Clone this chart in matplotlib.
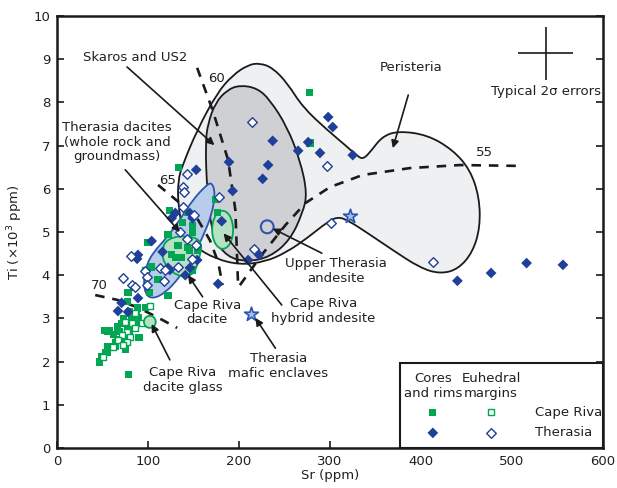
import matplotlib
matplotlib.use("Agg")
import matplotlib.pyplot as plt
from matplotlib.path import Path
from matplotlib.patches import PathPatch, Ellipse, Rectangle
import numpy as np

# ---------------- data ----------------
# Cape Riva plagioclase, cores and rims (Sr ppm, Ti x10^3 ppm)
cr_core_sr = [277, 278, 134, 174, 124, 143, 138, 149, 176, 122, 149, 99, 133, 143, 146, 154, 126, 130, 137,
              104, 149, 111, 102, 122, 78, 77, 88, 97, 84, 78, 52, 56, 91, 64, 73, 55, 49, 47, 79, 80, 87, 73,
              82, 89, 71, 77, 86, 66, 58, 69, 80, 90, 62, 67, 73, 56, 64, 75, 53]
cr_core_ti = [8.22, 7.06, 6.50, 5.76, 5.49, 5.46, 5.23, 5.16, 5.46, 4.95, 4.98, 4.75, 4.68, 4.65, 4.58, 4.58,
              4.47, 4.40, 4.40, 4.19, 4.12, 3.91, 3.59, 3.54, 3.59, 3.40, 3.24, 3.26, 2.96, 2.80, 2.71, 2.69,
              2.55, 2.45, 2.50, 2.22, 2.11, 1.99, 1.71, 3.15, 3.10, 2.99, 3.03, 3.03, 2.89, 2.85, 2.92, 2.80,
              2.73, 2.69, 2.73, 2.55, 2.62, 2.50, 2.43, 2.34, 2.34, 2.27, 2.22]
# Cape Riva euhedral margins
cr_rim_sr = [102, 97, 75, 82, 86, 77, 71, 80, 67, 77, 62, 73, 51, 93, 86]
cr_rim_ti = [3.29, 4.12, 2.92, 2.89, 2.78, 2.69, 2.62, 2.57, 2.50, 2.45, 2.34, 2.38, 2.11, 2.89, 3.12]
# Therasia cores and rims
th_core_sr = [298, 303, 276, 265, 289, 325, 237, 232, 226, 189, 193, 181, 210, 222, 440, 477, 516, 556, 177,
              153, 130, 126, 149, 104, 116, 89, 88, 154, 122, 141, 89, 71, 67, 78, 146, 124, 146]
th_core_ti = [7.66, 7.43, 7.08, 6.88, 6.83, 6.78, 7.11, 6.55, 6.23, 6.62, 5.95, 5.25, 4.35, 4.47, 3.87, 4.05,
              4.28, 4.24, 3.80, 6.44, 5.44, 5.32, 5.32, 4.79, 4.54, 4.47, 4.38, 4.35, 4.17, 4.00, 3.47, 3.36,
              3.17, 3.15, 5.44, 4.12, 4.17]
# Therasia euhedral margins
th_rim_sr = [214, 297, 301, 178, 216, 143, 413, 138, 140, 138, 151, 135, 143, 153, 81, 148, 133, 113, 119,
             97, 73, 99, 118, 82, 86, 99]
th_rim_ti = [7.55, 6.53, 5.21, 5.81, 4.61, 6.34, 4.31, 6.04, 5.93, 5.58, 5.39, 5.00, 4.84, 4.70, 4.44, 4.38,
             4.19, 4.17, 4.12, 4.10, 3.94, 3.96, 3.87, 3.77, 3.73, 3.77]
# Therasia mafic enclaves
encl_sr = [213, 322]
encl_ti = [3.10, 5.37]

# Whole-rock / groundmass fields
peristeria_sr = [133, 133, 138, 154, 176, 193, 210, 223, 237, 253, 270, 297, 319, 331, 337, 346, 357, 374, 407,
                 435, 454, 464, 465, 457, 441, 421, 399, 369, 341, 319, 308, 297, 275, 253, 229, 201, 174, 152, 138]
peristeria_ti = [5.63, 6.20, 6.55, 7.36, 8.22, 8.63, 8.87, 8.91, 8.80, 8.45, 7.89, 7.36, 6.97, 6.74, 6.69, 6.90,
                 7.20, 7.34, 7.25, 6.90, 6.44, 5.81, 5.12, 4.54, 4.14, 4.03, 4.17, 4.58, 4.98, 5.28, 5.35, 5.23,
                 4.86, 4.54, 4.31, 4.24, 4.38, 4.65, 5.05]
skaros_sr = [166, 174, 187, 201, 220, 234, 253, 267, 275, 270, 256, 234, 209, 187, 171, 165, 163]
skaros_ti = [7.52, 7.99, 8.29, 8.40, 8.33, 8.06, 7.43, 6.67, 5.90, 5.44, 4.81, 4.42, 4.31, 4.42, 4.88, 5.90, 7.06]
th_dacite_sr = [170, 174, 170, 160, 149, 135, 119, 105, 97, 95, 98, 105, 121, 135, 149, 163]
th_dacite_ti = [6.16, 5.90, 5.39, 4.88, 4.40, 3.96, 3.59, 3.45, 3.56, 3.89, 4.21, 4.51, 4.88, 5.28, 5.74, 6.06]
cr_dacite_sr = [116.5, 118.7, 127.5, 140.7, 153.8, 159.3, 157.1, 153.8, 148.4, 138.5, 127.5, 120.9, 115.4]
cr_dacite_ti = [4.63, 4.77, 4.88, 4.91, 4.86, 4.70, 4.47, 4.19, 4.00, 3.96, 4.05, 4.19, 4.42]
hybrid_center = (182, 5.05)
hybrid_size = (23, 0.88)
glass_center = (102, 2.92)
glass_size = (13, 0.28)
upper_th_center = (231, 5.12)
upper_th_size = (14, 0.30)

# Equilibrium isopleths (An content)
iso70_sr = [42, 66, 88, 110, 132]
iso70_ti = [3.54, 3.43, 3.26, 3.03, 2.78]
iso65_sr = [111, 135, 155, 168, 177, 182]
iso65_ti = [6.09, 5.67, 5.28, 4.81, 4.31, 3.77]
iso60_sr = [154, 171, 188, 196, 198, 199]
iso60_ti = [8.80, 7.82, 6.67, 5.51, 4.35, 3.77]
iso55_sr = [201, 225, 251, 273, 300, 336, 388, 443, 507]
iso55_ti = [3.77, 4.47, 5.16, 5.67, 6.04, 6.32, 6.48, 6.55, 6.53]
iso_labels = ["70", "65", "60", "55"]
iso_label_pos = [(47, 3.77), (122, 6.20), (175, 8.56), (470, 6.85)]

# Typical 2-sigma errors
err_center = (537, 9.14)
err_sr = 30
err_ti = 0.61

x_ticks = [0, 100, 200, 300, 400, 500, 600]
y_ticks = list(range(0, 11))

# ---------------- styles ----------------
GREEN = "#00a651"
BLUE = "#1f3f99"
BLUE_FILL = "#b8cdea"
BLUE_EDGE = "#2d55b0"
GREEN_FILL = "#b7e0c5"
GREY_FILL = "#cfd0d3"
LIGHT_FILL = "#eff0f2"
INK = "#231f20"
FS = 9.5

plt.rcParams["font.family"] = ["DejaVu Sans"]


def smooth_closed(xs, ys):
    """Closed quadratic-Bezier outline through the midpoints of the given vertices."""
    pts = np.column_stack([xs, ys]).astype(float)
    mids = (pts + np.roll(pts, -1, axis=0)) / 2
    verts = [mids[-1]]
    codes = [Path.MOVETO]
    for p, m in zip(pts, mids):
        verts += [p, m]
        codes += [Path.CURVE3, Path.CURVE3]
    return Path(verts, codes)


fig = plt.figure(figsize=(6.17, 4.88), dpi=100)
ax = fig.add_axes([57 / 617, 1 - 448 / 488, 546 / 617, 432 / 488])
ax.set_xlim(0, 600)
ax.set_ylim(0, 10)

# fields
ax.add_patch(PathPatch(smooth_closed(peristeria_sr, peristeria_ti), facecolor=LIGHT_FILL,
                       edgecolor="#1a1a1a", lw=1.3, zorder=1))
ax.add_patch(PathPatch(smooth_closed(skaros_sr, skaros_ti), facecolor=GREY_FILL,
                       edgecolor="#1a1a1a", lw=1.3, zorder=2))
ax.add_patch(PathPatch(smooth_closed(th_dacite_sr, th_dacite_ti), facecolor=BLUE_FILL,
                       edgecolor=BLUE_EDGE, lw=1.3, zorder=3))
ax.add_patch(PathPatch(smooth_closed(cr_dacite_sr, cr_dacite_ti), facecolor=GREEN_FILL,
                       edgecolor=GREEN, lw=1.3, zorder=4))
ax.add_patch(Ellipse(hybrid_center, *hybrid_size, facecolor=GREEN_FILL, edgecolor=GREEN, lw=1.3, zorder=4))

# isopleths
for xs, ys in [(iso70_sr, iso70_ti), (iso65_sr, iso65_ti), (iso60_sr, iso60_ti), (iso55_sr, iso55_ti)]:
    ax.plot(xs, ys, color="#1a1a1a", lw=1.9, dashes=(3.6, 3.0), zorder=5)
for lab, (x, y) in zip(iso_labels, iso_label_pos):
    ax.text(x, y, lab, fontsize=FS, color=INK, ha="center", va="center", zorder=9)

# plagioclase analyses
ax.scatter(cr_core_sr, cr_core_ti, marker="s", s=26, color=GREEN, edgecolors="none", zorder=6)
ax.scatter(cr_rim_sr, cr_rim_ti, marker="s", s=22, facecolors="white", edgecolors=GREEN, linewidths=1.0, zorder=6)
ax.scatter(th_core_sr, th_core_ti, marker="D", s=30, color=BLUE, edgecolors="none", zorder=7)
ax.scatter(th_rim_sr, th_rim_ti, marker="D", s=24, facecolors="white", edgecolors=BLUE, linewidths=1.0, zorder=7)

# small fields and enclaves
ax.add_patch(Ellipse(glass_center, *glass_size, facecolor=GREEN_FILL, edgecolor=GREEN, lw=1.3, zorder=8))
ax.add_patch(Ellipse(upper_th_center, *upper_th_size, facecolor="none", edgecolor=BLUE_EDGE, lw=1.5, zorder=8))
ax.scatter(encl_sr, encl_ti, marker="*", s=110, facecolors="#a9c0e6", edgecolors=BLUE_EDGE,
           linewidths=1.2, zorder=8)

# error bars
ax.errorbar([err_center[0]], [err_center[1]], xerr=err_sr, yerr=err_ti, fmt="none",
            ecolor="#1a1a1a", elinewidth=1.2, capsize=0, zorder=8)
ax.text(err_center[0], 8.26, "Typical 2σ errors", fontsize=FS, color=INK, ha="center", va="center")

# labels with arrows
arrow_kw = dict(arrowstyle="-|>", color="#1a1a1a", lw=1.2, mutation_scale=11, shrinkA=0, shrinkB=0)
labels = [
    ("Skaros and US2", (86, 9.03), (77, 8.82), (173, 7.01)),
    ("Therasia dacites\n(whole rock and\ngroundmass)", (66, 7.08), (75, 6.44), (135, 5.0)),
    ("Cape Riva\ndacite", (165, 3.14), (160, 3.50), (144, 4.0)),
    ("Cape Riva\ndacite glass", (138, 1.57), (124, 2.04), (104, 2.87)),
    ("Upper Therasia\nandesite", (307, 4.10), (291, 4.51), (237, 5.08)),
    ("Cape Riva\nhybrid andesite", (293, 3.17), (247, 3.31), (183, 4.97)),
    ("Therasia\nmafic enclaves", (243, 1.90), (240, 2.31), (218, 3.01)),
    ("Peristeria", (389, 8.80), (386, 8.17), (369, 6.94)),
]
for text, tpos, start, tip in labels:
    ax.text(*tpos, text, fontsize=FS, color=INK, ha="center", va="center", linespacing=1.15, zorder=10)
    ax.annotate("", xy=tip, xytext=start, arrowprops=arrow_kw, zorder=10)

# legend box
ax.add_patch(Rectangle((377, 0), 223, 1.97, facecolor="white", edgecolor="#1a1a1a", lw=1.5, zorder=11,
                       clip_on=False))
ax.text(413, 1.43, "Cores\nand rims", fontsize=FS, color=INK, ha="center", va="center", zorder=12,
        linespacing=1.15)
ax.text(477, 1.43, "Euhedral\nmargins", fontsize=FS, color=INK, ha="center", va="center", zorder=12,
        linespacing=1.15)
ax.scatter([413], [0.83], marker="s", s=26, color=GREEN, edgecolors="none", zorder=12)
ax.scatter([477], [0.83], marker="s", s=22, facecolors="white", edgecolors=GREEN, linewidths=1.0, zorder=12)
ax.scatter([413], [0.35], marker="D", s=30, color=BLUE, edgecolors="none", zorder=12)
ax.scatter([477], [0.35], marker="D", s=24, facecolors="white", edgecolors=BLUE, linewidths=1.0, zorder=12)
ax.text(525, 0.83, "Cape Riva", fontsize=FS, color=INK, ha="left", va="center", zorder=12)
ax.text(525, 0.35, "Therasia", fontsize=FS, color=INK, ha="left", va="center", zorder=12)

# axes styling
ax.set_xticks(x_ticks)
ax.set_yticks(y_ticks)
ax.tick_params(direction="in", length=5, width=1.2, labelsize=FS, colors="#1a1a1a",
               labelcolor=INK, right=True, top=False, pad=5)
for side in ["left", "bottom", "right", "top"]:
    ax.spines[side].set_linewidth(1.8)
    ax.spines[side].set_color("#1a1a1a")
ax.set_xlabel("Sr (ppm)", fontsize=FS, color=INK, labelpad=1)
ax.set_ylabel("Ti (×10$^3$ ppm)", fontsize=FS, color=INK, labelpad=6)

fig.savefig("out.png", dpi=100)
